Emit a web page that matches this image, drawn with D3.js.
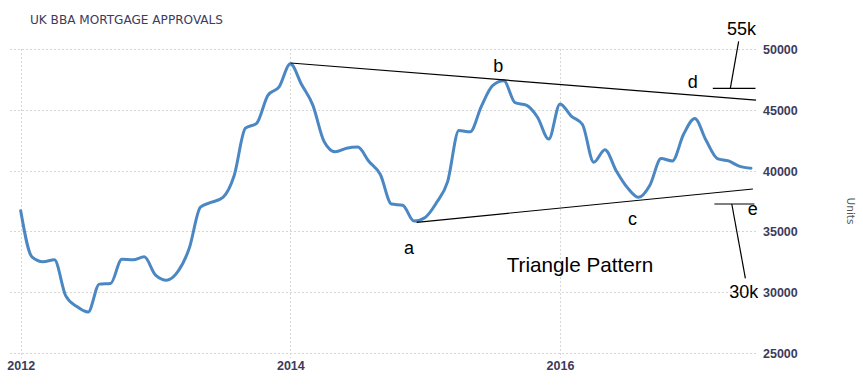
<!DOCTYPE html>
<html>
<head>
<meta charset="utf-8">
<script src="https://cdn.jsdelivr.net/npm/d3@7"></script>
<style>
  html, body { margin: 0; padding: 0; background: #fff; }
  svg { display: block; }
</style>
</head>
<body>
<svg id="chart" width="863" height="385"></svg>
<script>
// ---- Data (monthly, Jan 2012 .. Jun 2017) ----
const startYear = 2012;
const approvals = [
  36700, 32900, 32500, 32650, 29700, 28800, 28350, 30650, 30700, 32700, 32660, 32900,
  31400, 30980, 31700, 33600, 37000, 37400, 37800, 39600, 43500, 43900, 46200, 46900,
  48800, 47100, 45400, 42400, 41550, 41850, 41950, 40750, 39700, 37250, 37150, 35850,
  36150, 37350, 39100, 43300, 43200, 45300, 47000, 47400, 45600, 45400, 44400, 42600,
  45500, 44500, 43800, 40700, 41730, 40000, 38600, 37800, 38800, 41000, 40800, 43000,
  44300, 42500, 41000, 40800, 40350, 40200
];
const yTickValues = [25000, 30000, 35000, 40000, 45000, 50000];
const xTickMonths = [0, 24, 48];
const xTickLabels = ["2012", "2014", "2016"];
const title = "UK BBA MORTGAGE APPROVALS";
const yAxisTitle = "Units";

// Annotation lines in data space: [monthIndex, value]
const upperTrend = [[24.03, 48870], [65.45, 45820]];
const lowerTrend = [[35.24, 35745], [65.17, 38490]];
const dTick = [[61.6, 46786], [65.4, 46786]];
const dLeader = [[63.16, 46786], [63.9, 50660]];
const eTick = [[61.74, 37253], [65.3, 37253]];
const eLeader = [[63.29, 37253], [64.5, 31130]];

// Annotation labels in data space
const labelTexts = ["a", "b", "c", "d", "e", "55k", "30k", "Triangle Pattern"];
const labelMonths = [34.12, 42.07, 54.05, 59.37, 64.71, 62.87, 63.07, 43.26];
const labelValues = [33133, 48154, 35522, 46786, 36346, 51178, 29507, 31674];

// ---- Drawing ----
const svg = d3.select("#chart");
const x = d3.scaleLinear().domain([0, 48]).range([20.7, 560]);
const y = d3.scaleLinear().domain([25000, 50000]).range([352.7, 49.3]);

const gridColor = "#d6d6d6";
const labelColor = "#3b3b5c";

// Horizontal gridlines
svg.append("g").selectAll("line").data(yTickValues).join("line")
  .attr("x1", 10).attr("x2", 758)
  .attr("y1", d => Math.round(y(d)) + 0.5).attr("y2", d => Math.round(y(d)) + 0.5)
  .attr("stroke", gridColor).attr("stroke-width", 1).attr("stroke-dasharray", "2,2");

// Vertical gridlines
svg.append("g").selectAll("line").data(xTickMonths).join("line")
  .attr("x1", d => Math.round(x(d)) + 0.5).attr("x2", d => Math.round(x(d)) + 0.5)
  .attr("y1", 49).attr("y2", 358)
  .attr("stroke", gridColor).attr("stroke-width", 1).attr("stroke-dasharray", "2,2");

// Y axis labels (right)
const yAxis = d3.axisRight(y).tickValues(yTickValues).tickSize(0).tickPadding(0)
  .tickFormat(d3.format("d"));
const gy = svg.append("g").attr("transform", "translate(763,0)").call(yAxis);
gy.select(".domain").remove();
gy.selectAll("text")
  .attr("fill", labelColor)
  .style("font-family", "'Liberation Sans', Arial, sans-serif")
  .style("font-weight", "bold")
  .style("font-size", "12.5px")
  .attr("dy", "0.36em");

// X axis labels
const xAxis = d3.axisBottom(x).tickValues(xTickMonths).tickSize(0).tickPadding(0)
  .tickFormat((d, i) => xTickLabels[i]);
const gx = svg.append("g").attr("transform", "translate(0,361)").call(xAxis);
gx.select(".domain").remove();
gx.selectAll("text")
  .attr("fill", labelColor)
  .attr("dy", "0.71em")
  .style("font-family", "'Liberation Sans', Arial, sans-serif")
  .style("font-weight", "bold")
  .style("font-size", "12.5px");

// Title
svg.append("text")
  .attr("x", 30).attr("y", 24)
  .attr("fill", labelColor)
  .attr("textLength", 193).attr("lengthAdjust", "spacingAndGlyphs")
  .style("font-family", "'DejaVu Sans Condensed', 'DejaVu Sans', sans-serif")
  .style("font-size", "13px")
  .text(title);

// Y axis title
svg.append("text")
  .attr("transform", "translate(847,211) rotate(90)")
  .attr("text-anchor", "middle")
  .attr("fill", "#555")
  .style("font-family", "'DejaVu Sans', sans-serif")
  .style("font-size", "10.5px")
  .text(yAxisTitle);

// Data line
const line = d3.line()
  .x((d, i) => x(i))
  .y(d => y(d))
  .curve(d3.curveMonotoneX);
svg.append("path")
  .datum(approvals)
  .attr("d", line)
  .attr("fill", "none")
  .attr("stroke", "#4b87c2")
  .attr("stroke-width", 3)
  .attr("stroke-linejoin", "round")
  .attr("stroke-linecap", "round");

// Annotation lines
const seg = d3.line().x(d => x(d[0])).y(d => y(d[1]));
[upperTrend, lowerTrend, dTick, dLeader, eTick, eLeader].forEach(s => {
  svg.append("path").attr("d", seg(s))
    .attr("fill", "none").attr("stroke", "#000").attr("stroke-width", 1.2);
});

// Annotation labels
svg.append("g").selectAll("text").data(labelTexts).join("text")
  .attr("x", (d, i) => x(labelMonths[i]))
  .attr("y", (d, i) => y(labelValues[i]))
  .attr("fill", "#000")
  .style("font-family", "'Liberation Sans', Arial, sans-serif")
  .style("font-size", d => d === "Triangle Pattern" ? "20.7px" : "18px")
  .text(d => d);
</script>
</body>
</html>
